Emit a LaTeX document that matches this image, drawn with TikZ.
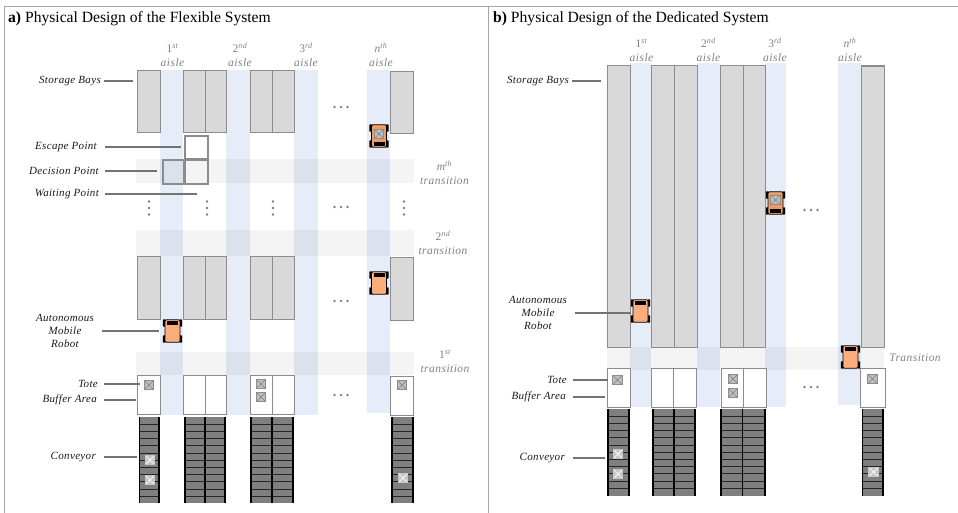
\documentclass[tikz,border=0pt]{standalone}
\usepackage{fontspec}
\setmainfont{Liberation Serif}
\newfontfamily\lblfont[LetterSpace=3]{Liberation Serif}
\newfontfamily\gtxtfont[LetterSpace=4]{Liberation Serif}
\usetikzlibrary{positioning}

\definecolor{bayfill}{HTML}{D9D9D9}
\definecolor{bayline}{HTML}{8C8C8C}
\definecolor{aislefill}{HTML}{E6EDF8}
\definecolor{beltfill}{HTML}{7F7F7F}
\definecolor{robotfill}{HTML}{FBAE7C}
\definecolor{robotload}{HTML}{EE9C62}
\definecolor{framegray}{HTML}{A6A6A6}

\tikzset{
    bay/.style={draw=bayline, fill=bayfill, line width=1.4pt, inner sep=0pt, anchor=north west},
    buffer/.style={bay, fill=white},
    aisle/.style={fill=aislefill, inner sep=0pt, anchor=north west},
    transit/.style={fill=black, fill opacity=0.045, inner sep=0pt, anchor=north west},
    belt/.style={fill=beltfill, inner sep=0pt, anchor=north west},
    tote/.style={draw=black!45, fill=black!25, line width=0.7pt, minimum size=9.5pt, inner sep=0pt,
        path picture={\draw[black!50, line width=0.6pt]
            (path picture bounding box.north west) -- (path picture bounding box.south east)
            (path picture bounding box.north east) -- (path picture bounding box.south west);}},
    beltote/.style={tote, draw=black!22, fill=black!22,
        path picture={\draw[white, line width=0.7pt]
            (path picture bounding box.north west) -- (path picture bounding box.south east)
            (path picture bounding box.north east) -- (path picture bounding box.south west);}},
    point/.style={draw=bayline, line width=2.2pt, inner sep=0pt, anchor=north west},
    lbl/.style={font=\lblfont\itshape\fontsize{11}{13}\selectfont, text=black!90, inner sep=0pt, align=center},
    gtxt/.style={font=\gtxtfont\fontsize{11.5}{14}\selectfont, text=black!50, inner sep=0pt, align=center},
    dotmark/.style={circle, fill=black!50, inner sep=0pt, minimum size=2.6pt},
    lead/.style={draw=black!55, line width=1.2pt},
    title/.style={font=\fontsize{15.6}{18}\selectfont, inner sep=0pt, anchor=west},
    pics/agv/.style={code={
        \foreach \sx in {-1,1} \foreach \sy in {-1,1}
            \fill[black, rounded corners=0.8pt] (\sx*8.3-1.4,\sy*8-3.7) rectangle ++(2.8,7.4);
        \node[draw=black, fill=#1, line width=0.8pt, rounded corners=1.2pt, inner sep=0pt,
            minimum width=15pt, minimum height=22.5pt, transform shape] (-body) at (0,0) {};
        \fill[black] (-5.5,-10) rectangle (5.5,-6.5);
    }},
}

\begin{document}
\begin{tikzpicture}[x=1pt, y=-1pt]
    \useasboundingbox (0,0) rectangle (958,513);
    \draw[framegray, line width=1pt] (4,513) -- (4,6.5) -- (958,6.5) (488.5,6.5) -- (488.5,513);

    \node[title] (titlea) at (8,18.5) {\textbf{a)} Physical Design of the Flexible System};
    \node[title] (titleb) at (493,18.5) {\textbf{b)} Physical Design of the Dedicated System};

    % flexible system
    \foreach \name/\x/\w/\h in {a/160/23/345, b/226/24/345, c/294/24/345, d/367/23/343}
        \node[aisle, minimum width=\w pt, minimum height=\h pt] (aislea\name) at (\x,70) {};
    \foreach \name/\y/\h in {m/158.5/24.5, s/230/26, f/351.5/23}
        \node[transit, minimum width=278pt, minimum height=\h pt] (transa\name) at (136,\y) {};
    \foreach \name/\x/\w/\dy in {a/137/23/0, b/183/22/0, c/205/21/0, d/250/22/0, e/272/22/0, f/390/23/1} {
        \node[bay, minimum width=\w pt, minimum height=62pt] (bayup\name) at (\x,70+\dy) {};
        \node[bay, minimum width=\w pt, minimum height=63pt] (baylow\name) at (\x,256+\dy) {};
        \node[buffer, minimum width=\w pt, minimum height=39pt] (buffera\name) at (\x,375+\dy*0.5) {};
    }
    \foreach \name/\x/\w in {a/139.5/19.5, b/185/20, c/205/20, d/251/21, e/272/21, f/392/21} {
        \node[belt, minimum width=\w pt, minimum height=86pt] (belta\name) at (\x,417) {};
        \foreach \k in {1,...,11}
            \draw[black!85, line width=0.9pt] (\x,417+7.2*\k) -- ++(\w,0);
        \draw[black, line width=1.4pt] (\x,417) -- ++(0,86) (\x+\w,417) -- ++(0,86);
    }
    \node[point, minimum size=23pt] (escape) at (183.5,135) {};
    \node[point, minimum width=21pt, minimum height=24pt] (decision) at (162,159) {};
    \node[point, minimum width=23pt, minimum height=24pt] (waiting) at (183.5,159) {};

    \foreach \name/\x/\y in {a/149/385, b/261/384, c/261/397, d/402/385}
        \node[tote] (totea\name) at (\x,\y) {};
    \foreach \name/\x/\y in {a/150/460, b/150/480, c/403/478}
        \node[beltote] (beltotea\name) at (\x,\y) {};

    \pic[rotate=180] (robotaa) at (379,136) {agv=robotload};
    \node[tote] (toteae) at (379,134) {};
    \pic (robotab) at (379,283) {agv=robotfill};
    \pic (robotac) at (172.5,331) {agv=robotfill};

    \foreach \name/\y in {a/107, b/207, c/301, d/395}
        \foreach \k in {-1,0,1}
            \node[dotmark] (dotsa\name\k) at (341+\k*6.5,\y) {};
    \foreach \name/\x in {a/149, b/207, c/273, d/404}
        \foreach \k in {-1,0,1}
            \node[dotmark] (vdotsa\name\k) at (\x,208+\k*6.5) {};

    \node[gtxt] (aislea1) at (172.5,55) {1\textsuperscript{\itshape st}\\\itshape aisle};
    \node[gtxt] (aislea2) at (240,55) {2\textsuperscript{\itshape nd}\\\itshape aisle};
    \node[gtxt] (aislea3) at (306,55) {3\textsuperscript{\itshape rd}\\\itshape aisle};
    \node[gtxt] (aislean) at (381,55) {\itshape n\textsuperscript{th}\\\itshape aisle};
    \node[gtxt] (transam) at (444.5,172.5) {\itshape m\textsuperscript{th}\\\itshape transition};
    \node[gtxt] (transa2) at (443,242.5) {2\textsuperscript{\itshape nd}\\\itshape transition};
    \node[gtxt] (transa1) at (445,361.5) {1\textsuperscript{\itshape st}\\\itshape transition};

    \node[lbl, anchor=east] (storea) at (101,81) {Storage Bays};
    \node[lbl, anchor=east] (escapea) at (97,147) {Escape Point};
    \node[lbl, anchor=east] (decidea) at (99,171) {Decision Point};
    \node[lbl, anchor=east] (waita) at (99,194) {Waiting Point};
    \node[lbl] (robota) at (65,331) {Autonomous\\Mobile\\Robot};
    \node[lbl, anchor=east] (totelbla) at (98,384) {Tote};
    \node[lbl, anchor=east] (bufferlbla) at (97,400) {Buffer Area};
    \node[lbl, anchor=east] (convea) at (96,457) {Conveyor};

    \foreach \from/\to/\s/\e in {storea/bayupa/3/4, escapea/escape/8/3, decidea/decision/6/5,
        robota/robotac-body/8/6, totelbla/toteaa/6/4, bufferlbla/bufferaa/7/1, convea/beltaa/8/3}
        \draw[lead, shorten <=\s pt, shorten >=\e pt] (\from.east) -- (\from.east -| \to.west);
    \draw[lead, shorten <=6pt, shorten >=8pt] (waita.east) -| (waiting.south);

    % dedicated system
    \foreach \name/\x/\w/\h in {a/630/21/344, b/697/23/344, c/765/21/344, d/838/23/342}
        \node[aisle, minimum width=\w pt, minimum height=\h pt] (aisleb\name) at (\x,63) {};
    \node[transit, minimum width=277pt, minimum height=23.5pt] (transb) at (607,346.5) {};
    \foreach \name/\x/\w/\dy in {a/607/23/0, b/651/23/0, c/674/22.5/0, d/720/23/0, e/743/22/0, f/861/23/1} {
        \node[bay, minimum width=\w pt, minimum height=281.5pt] (bayb\name) at (\x,65+\dy*0.5) {};
    }
    \foreach \name/\x/\w in {a/607/23, b/651/22, c/673/23, d/720.5/22.5, e/743/22.5, f/860/25}
        \node[buffer, minimum width=\w pt, minimum height=39pt] (bufferb\name) at (\x,367.5) {};
    \foreach \name/\x/\w in {a/608/21, b/653/21, c/674/21, d/721/21.5, e/742.5/22.5, f/862.5/20.5} {
        \node[belt, minimum width=\w pt, minimum height=86.5pt] (beltb\name) at (\x,409) {};
        \foreach \k in {1,...,11}
            \draw[black!85, line width=0.9pt] (\x,409+7.2*\k) -- ++(\w,0);
        \draw[black, line width=1.4pt] (\x,409) -- ++(0,86.5) (\x+\w,409) -- ++(0,86.5);
    }
    \foreach \name/\x/\y in {a/617.5/380, b/733/379, c/733/393, d/872.5/379}
        \node[tote] (toteb\name) at (\x,\y) {};
    \foreach \name/\x/\y in {a/618/454, b/618/474, c/873.5/472}
        \node[beltote] (beltoteb\name) at (\x,\y) {};

    \pic[rotate=180] (robotba) at (775.5,203) {agv=robotload};
    \node[tote] (totebe) at (775.5,200) {};
    \pic (robotbb) at (640.5,311) {agv=robotfill};
    \pic (robotbc) at (850.5,357) {agv=robotfill};

    \foreach \name/\y in {a/210, b/387}
        \foreach \k in {-1,0,1}
            \node[dotmark] (dotsb\name\k) at (811+\k*6.5,\y) {};

    \node[gtxt] (aisleb1) at (641.5,50) {1\textsuperscript{\itshape st}\\\itshape aisle};
    \node[gtxt] (aisleb2) at (708.5,50) {2\textsuperscript{\itshape nd}\\\itshape aisle};
    \node[gtxt] (aisleb3) at (775,50) {3\textsuperscript{\itshape rd}\\\itshape aisle};
    \node[gtxt] (aislebn) at (850,50) {\itshape n\textsuperscript{th}\\\itshape aisle};
    \node[gtxt] (transb1) at (915,358) {\itshape Transition};

    \node[lbl, anchor=east] (storeb) at (569,81) {Storage Bays};
    \node[lbl] (robotb) at (538,313) {Autonomous\\Mobile\\Robot};
    \node[lbl, anchor=east] (totelblb) at (567,380) {Tote};
    \node[lbl, anchor=east] (bufferlblb) at (566,397) {Buffer Area};
    \node[lbl, anchor=east] (conveb) at (565,458) {Conveyor};

    \foreach \from/\to/\s/\e in {storeb/bayba/3/6, robotb/robotbb-body/8/2, totelblb/toteba/6/4,
        bufferlblb/bufferba/7/2, conveb/beltba/8/3}
        \draw[lead, shorten <=\s pt, shorten >=\e pt] (\from.east) -- (\from.east -| \to.west);
\end{tikzpicture}
\end{document}
